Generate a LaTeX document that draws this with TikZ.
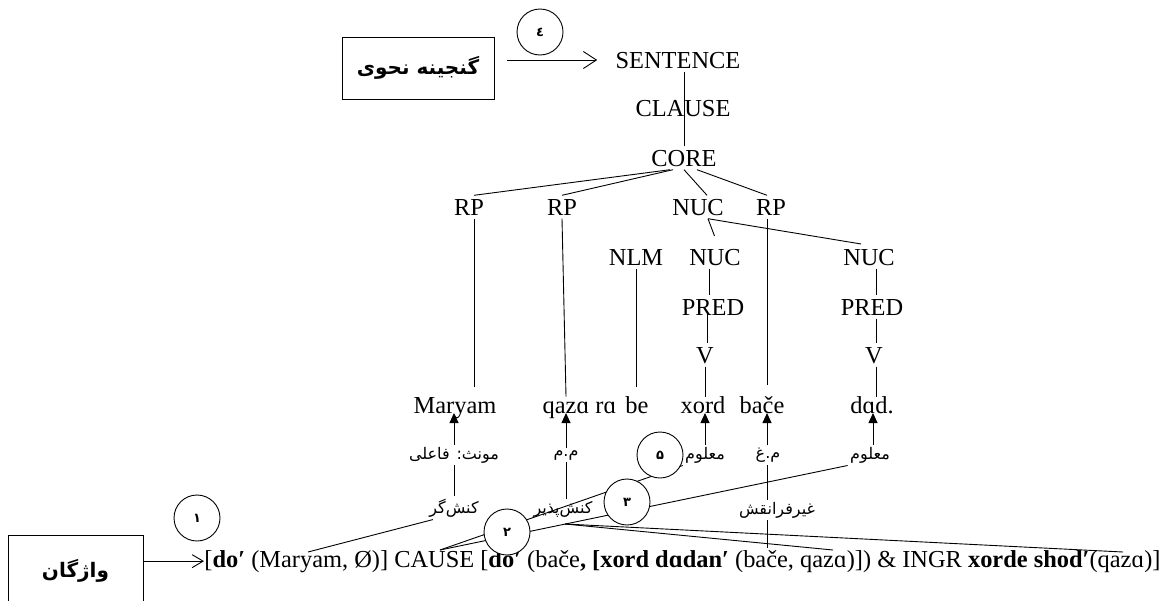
\documentclass[tikz,border=0pt]{standalone}
\usepackage{fontspec}
\setmainfont{Liberation Serif}
\newfontfamily\fa[Script=Arabic]{DejaVu Sans}
\TeXXeTstate=1
\usetikzlibrary{arrows.meta,calc}
\newcommand{\fatext}[1]{{\fa\beginR #1\endR}}

\begin{document}
\begin{tikzpicture}[x=1pt,y=-1pt,line width=0.9pt,
  tree/.style={font=\fontsize{24.4}{28}\selectfont,inner sep=3pt,text height=16.5pt,text depth=0pt},
  word/.style={font=\fontsize{24.4}{28}\selectfont,anchor=base,inner sep=0pt,text height=16pt,text depth=5pt},
  falabel/.style={font=\fa\fontsize{16}{18}\selectfont,inner sep=2pt},
  numcirc/.style={circle,draw,fill=white,minimum size=46pt,inner sep=0pt,font=\fa\fontsize{13}{14}\selectfont\bfseries},
  titlebox/.style={draw,inner sep=0pt,font=\fa\fontsize{20}{22}\selectfont\bfseries},
  openarrow/.style={-{Straight Barb[length=13pt,width=17pt]}},
  uparrow/.style={-{Triangle[length=10pt,width=9pt]}}]
\useasboundingbox (0,0) rectangle (1169,600);

% inventories
\node[titlebox,minimum width=152pt,minimum height=62pt] (synbox) at (418,68) {\fatext{گنجینه نحوی}};
\node[titlebox,minimum width=135pt,minimum height=72pt] (lexbox) at (75.5,571) {\raisebox{6pt}{\fatext{واژگان}}};

% syntactic template
\node[tree] (sentence) at (678,60) {SENTENCE};
\node[tree] (clause) at (683,108) {CLAUSE};
\node[tree] (core) at (684,158) {CORE};
\node[tree] (rp1) at (469,207) {RP};
\node[tree] (rp2) at (562,207) {RP};
\node[tree] (nuc1) at (698,207) {NUC};
\node[tree] (rp3) at (771,207) {RP};
\node[tree] (nlm) at (636,257) {NLM};
\node[tree] (nuc2) at (715,257) {NUC};
\node[tree] (nuc3) at (869,257) {NUC};
\node[tree] (pred1) at (713,307) {PRED};
\node[tree] (pred2) at (872,307) {PRED};
\node[tree] (v1) at (705,355) {V};
\node[tree] (v2) at (874,355) {V};

% sentence words
\node[word] (maryam) at (455,413) {Maryam};
\node[word] (qaza) at (579.5,413) {qazɑ rɑ};
\node[word] (be) at (637,413) {be};
\node[word] (xord) at (703,413) {xord};
\node[word] (bace) at (762,413) {bače};
\node[word] (dad) at (872,413) {dɑd.};

% tree branches
\draw (core.north |- sentence.south) -- (core.north);
\draw ([xshift=-14pt]core.south) -- ([xshift=5pt]rp1.north);
\draw ([xshift=-11pt]core.south) -- (rp2.north);
\draw (core.south) -- ([xshift=9pt]nuc1.north);
\draw ([xshift=13pt]core.south) -- ([xshift=-4pt]rp3.north);
\draw[shorten >=10pt] ([xshift=5pt]rp1.south) -- ([xshift=5pt]rp1.south |- maryam.north);
\draw (rp2.south) -- ([xshift=-13.5pt]qaza.north);
\draw[shorten >=12pt] ([xshift=-4pt]rp3.south) -- ([xshift=-4pt]rp3.south |- bace.north);
\draw[shorten >=10pt] (nlm.south) -- (nlm.south |- be.north);
\draw[shorten >=10pt] ([xshift=10pt]nuc1.south) -- ([xshift=3pt]nuc2.north);
\draw[shorten >=8pt] ([xshift=10pt]nuc1.south) -- (nuc3.north);
\draw ([xshift=-6pt]nuc2.south) -- ([xshift=-4pt]pred1.north);
\draw ([xshift=-6pt,yshift=-5pt]pred1.center) -- ([xshift=2pt]v1.north);
\draw (v1.south) -- (v1.south |- xord.north);
\draw ([xshift=7pt]nuc3.south) -- ([xshift=4pt]pred2.north);
\draw ([xshift=4pt]pred2.south) -- ([xshift=2pt]v2.north);
\draw ([xshift=2pt]v2.south) -- ([xshift=2pt]v2.south |- dad.north);

% logical structure
\node[anchor=base west,inner sep=0pt,font=\fontsize{24.4}{28}\selectfont] (formula) at (204,567)
  {[\textbf{do′} (Maryam, Ø)] CAUSE [\textbf{do′} (bače\textbf{,} \textbf{[xord dɑdan′} (bače, qazɑ)]) \& INGR \textbf{xorde shod′}(qazɑ)]};
\coordinate (fmaryam) at (308,552);
\coordinate (fcause) at (440,550);
\coordinate (fbace) at (767,548);
\coordinate (fqazaA) at (833,550);
\coordinate (fqazaB) at (1123,552);
\coordinate (fork) at (565,524);

% linking labels
\node[falabel] (mf) at (454,455) {\fatext{مونث: فاعلی}};
\node[falabel] (mm) at (566,455) {\fatext{م.م}};
\node[falabel] (ma1) at (705,455) {\fatext{معلوم}};
\node[falabel] (mg) at (768,455) {\fatext{م.غ}};
\node[falabel] (ma2) at (870,455) {\fatext{معلوم}};
\node[falabel] (kg) at (454,508) {\fatext{کنش‌گر}};
\node[falabel] (kp) at (563,509) {\fatext{کنش‌پذیر}};
\node[falabel] (gf) at (777,510) {\fatext{غیرفرانقش}};

% linking lines
\draw (fmaryam) -- ([xshift=6pt]kg.south west);
\draw (fcause) -- (ma1.south west);
\draw (fcause) -- (ma2.south west);
\draw (fork) -- (fqazaA);
\draw (fork) -- (fqazaB);

\draw (kg.north) -- (mf.south);
\draw[uparrow] (mf.north) -- (mf.north |- maryam.base);
\draw (mm.south |- kp.north) -- (mm.south);
\draw[uparrow] (mm.north) -- (mm.north |- qaza.base);
\draw[uparrow] (ma1.north) -- (ma1.north |- xord.base);
\draw (fbace) -- (fbace |- gf.south);
\draw (fbace |- gf.north) -- (fbace |- mg.south);
\draw[uparrow] (fbace |- mg.north) -- (fbace |- bace.base);
\draw[uparrow] ([xshift=3pt]ma2.north) -- ([xshift=3pt]ma2.north |- dad.base);

% step numbers
\node[numcirc] (c1) at (197,518) {۱};
\node[numcirc] (c2) at (507,532) {۲};
\node[numcirc] (c3) at (627,502) {۳};
\node[numcirc] (c4) at (540,32) {٤};
\node[numcirc] (c5) at (660,455) {۵};

% arrows from the inventories
\draw[openarrow,shorten <=13pt,shorten >=15pt] (synbox.east |- sentence.west) -- (sentence.west);
\draw[-{Straight Barb[length=11pt,width=13pt]}] (lexbox.east |- formula.west) -- (formula.west);
\end{tikzpicture}
\end{document}
